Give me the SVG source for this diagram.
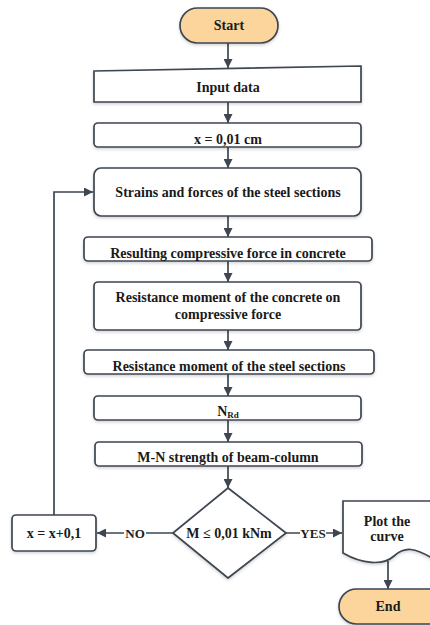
<svg xmlns="http://www.w3.org/2000/svg" width="430" height="625" viewBox="0 0 430 625">
<style>
.box{fill:#ffffff;stroke:#3d4651;stroke-width:1.7;filter:url(#sh)}
.term{fill:#fbd59c;stroke:#3d4651;stroke-width:1.7;filter:url(#sh)}
.t{font-family:"Liberation Serif","Times New Roman",serif;font-weight:bold;font-size:14px;fill:#1a1a1a;text-anchor:middle}
.c{fill:none;stroke:#3d4651;stroke-width:1.7}
.lbl{font-family:"Liberation Serif","Times New Roman",serif;font-weight:bold;font-size:13px;fill:#222;text-anchor:middle}
</style>
<defs>
<marker id="ah" viewBox="0 0 10 10" refX="10" refY="5" markerWidth="10" markerHeight="9" orient="auto" markerUnits="userSpaceOnUse">
<path d="M0,0 L10,5 L0,10 z" fill="#3d4651"/>
</marker>
<filter id="sh" x="-10%" y="-20%" width="120%" height="150%">
<feDropShadow dx="0" dy="1.5" stdDeviation="1.5" flood-color="#000" flood-opacity="0.18"/>
</filter>
</defs>
<rect width="430" height="625" fill="#ffffff"/>
<g id="connectors">
<path class="c" d="M228,43 V68" marker-end="url(#ah)"/>
<path class="c" d="M228,102 V123" marker-end="url(#ah)"/>
<path class="c" d="M228,147 V168" marker-end="url(#ah)"/>
<path class="c" d="M228,216 V237" marker-end="url(#ah)"/>
<path class="c" d="M228,261 V282" marker-end="url(#ah)"/>
<path class="c" d="M228,330 V350" marker-end="url(#ah)"/>
<path class="c" d="M228,374 V396" marker-end="url(#ah)"/>
<path class="c" d="M228,420 V442" marker-end="url(#ah)"/>
<path class="c" d="M228,466 V488" marker-end="url(#ah)"/>
<path class="c" d="M173,533 H97" marker-end="url(#ah)"/>
<path class="c" d="M286,533 H342" marker-end="url(#ah)"/>
<path class="c" d="M54,515 V192 H93" marker-end="url(#ah)"/>
<path class="c" d="M388,561 V589" marker-end="url(#ah)"/>
<rect x="124" y="526" width="22" height="14" fill="#ffffff"/>
<text class="lbl" x="135" y="538">NO</text>
<rect x="300" y="526" width="26" height="14" fill="#ffffff"/>
<text class="lbl" x="313" y="538">YES</text>
</g>
<g id="start">
<rect class="term" x="180" y="8" width="98" height="35" rx="17.5"/>
<text class="t" x="229" y="30">Start</text>
</g>
<g id="input">
<path class="box" d="M94,71 L361,66 L361,102 L94,102 Z"/>
<text class="t" x="228" y="92">Input data</text>
</g>
<g id="init">
<rect class="box" x="94" y="123" width="267" height="24" rx="4"/>
<text class="t" x="228" y="144">x = 0,01 cm</text>
</g>
<g id="strains">
<rect class="box" x="94" y="168" width="267" height="48" rx="7"/>
<text class="t" x="228" y="197">Strains and forces of the steel sections</text>
</g>
<g id="resulting">
<rect class="box" x="84" y="237" width="288" height="24" rx="4"/>
<text class="t" x="228" y="258">Resulting compressive force in concrete</text>
</g>
<g id="concrete">
<rect class="box" x="94" y="282" width="267" height="48" rx="4"/>
<text class="t" x="228" y="302">Resistance moment of the concrete on</text>
<text class="t" x="228" y="319">compressive force</text>
</g>
<g id="steel">
<rect class="box" x="84" y="350" width="290" height="24" rx="4"/>
<text class="t" x="229" y="371">Resistance moment of the steel sections</text>
</g>
<g id="nrd">
<rect class="box" x="94" y="396" width="267" height="24" rx="4"/>
<text class="t" x="228" y="416">N<tspan font-size="9" dy="2">Rd</tspan></text>
</g>
<g id="mn">
<rect class="box" x="95" y="442" width="267" height="24" rx="4"/>
<text class="t" x="228" y="462">M-N strength of beam-column</text>
</g>
<g id="decision">
<path class="box" d="M228,488 L286,533 L228,578 L173,533 Z" stroke-linejoin="round"/>
<text class="t" x="229" y="538">M ≤ 0,01 kNm</text>
</g>
<g id="increment">
<rect class="box" x="12" y="515" width="84" height="36" rx="4"/>
<text class="t" x="54" y="538">x = x+0,1</text>
</g>
<g id="plot">
<path class="box" d="M343,501 H432 V558 C415,548 405,546 394,556 C383,566 362,564 343,553 Z"/>
<text class="t" x="387" y="526">Plot the</text>
<text class="t" x="387" y="541">curve</text>
</g>
<g id="end">
<rect class="term" x="339" y="589" width="110" height="35" rx="17.5"/>
<text class="t" x="388" y="611">End</text>
</g>
</svg>
